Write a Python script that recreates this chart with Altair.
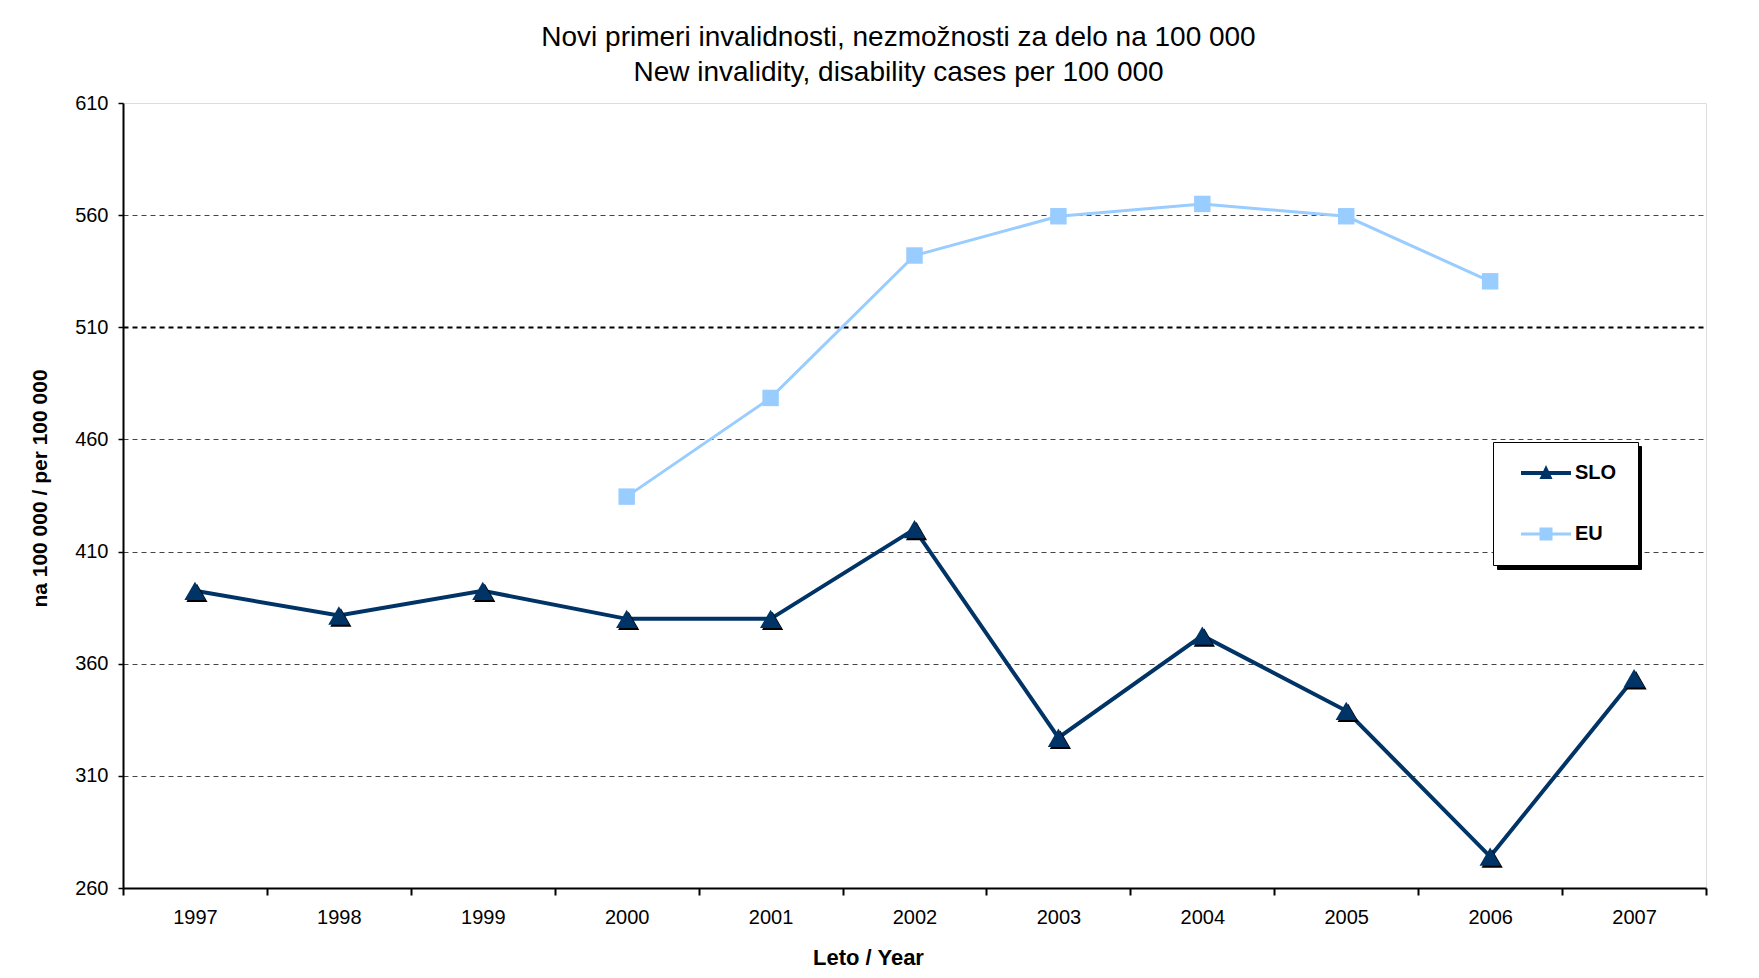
import altair as alt
import pandas as pd

years = ["1997", "1998", "1999", "2000", "2001", "2002", "2003", "2004", "2005", "2006", "2007"]
slo_values = [392.5, 381.5, 392.5, 380, 380, 420, 327, 372.5, 339, 274, 353.5]
eu_years = ["2000", "2001", "2002", "2003", "2004", "2005", "2006"]
eu_values = [434.5, 478.5, 542, 559.5, 565, 559.5, 530.5]
series = ["SLO", "EU"]
colors = ["#003366", "#99CCFF"]
y_ticks = [260, 310, 360, 410, 460, 510, 560, 610]

df = pd.DataFrame({
    "year": years + eu_years,
    "value": slo_values + eu_values,
    "series": ["SLO"] * len(slo_values) + ["EU"] * len(eu_values),
})

FONT = "Liberation Sans, Arial, Helvetica, sans-serif"

# legend symbols: line segment + marker (unit = 10px with symbolSize 400)
slo_path = "M-2.5,-0.2H2.5V0.2H-2.5Z M0,-0.8L0.65,0.6L-0.65,0.6Z"
eu_path = "M-2.5,-0.15H2.5V0.15H-2.5Z M-0.65,-0.65H0.65V0.65H-0.65Z"

main_legend = alt.Legend(
    title=None,
    orient="none",
    legendX=1370,
    legendY=339,
    direction="vertical",
    fillColor="white",
    strokeColor="black",
    padding=21,
    rowPadding=41,
    labelFont=FONT,
    labelFontSize=20,
    labelFontWeight="bold",
    labelColor="black",
    labelOffset=19,
    symbolOffset=22,
    symbolSize=400,
    symbolOpacity=1,
    symbolStrokeWidth=0,
    zindex=2,
)

# drop shadow of the legend box (same size, no label text)
shadow_legend = alt.Legend(
    title=None,
    orient="none",
    legendX=1374,
    legendY=343,
    direction="vertical",
    fillColor="black",
    strokeColor="black",
    padding=21,
    rowPadding=41,
    labelExpr="''",
    labelFontSize=20,
    labelOffset=60,
    symbolOffset=22,
    symbolSize=400,
    symbolOpacity=1,
    symbolStrokeWidth=0,
    zindex=1,
)

x_enc = alt.X(
    "year:N",
    sort=years,
    scale=alt.Scale(type="band", domain=years, paddingInner=0, paddingOuter=0),
    axis=alt.Axis(
        title="Leto / Year",
        labelAngle=0,
        tickBand="extent",
        domainColor="black",
        domainWidth=2,
        tickColor="black",
        tickWidth=2,
        tickSize=7,
        labelFont=FONT,
        labelFontSize=20,
        labelColor="black",
        labelBaseline="middle",
        labelPadding=22,
        titleFont=FONT,
        titleFontSize=22,
        titleFontWeight="bold",
        titleColor="black",
        titleX=745,
        titleY=69,
        titleBaseline="middle",
        titleAlign="center",
        grid=False,
    ),
)

y_enc = alt.Y(
    "value:Q",
    scale=alt.Scale(domain=[260, 610], nice=False, zero=False),
    axis=alt.Axis(
        title="na 100 000 / per 100 000",
        values=y_ticks,
        domainColor="black",
        domainWidth=2,
        tickColor="black",
        tickWidth=1.5,
        tickSize=5,
        labelFont=FONT,
        labelFontSize=20,
        labelColor="black",
        labelPadding=10,
        titleFont=FONT,
        titleFontSize=21,
        titleFontWeight="bold",
        titleColor="black",
        titlePadding=24,
        titleY=385,
        grid=True,
        gridDash=[5, 4],
        gridColor=alt.condition(alt.datum.value == 510, alt.value("black"), alt.value("#444444")),
        gridWidth=alt.condition(alt.datum.value == 510, alt.value(2), alt.value(1)),
        gridOpacity=alt.condition(
            (alt.datum.value == 610) | (alt.datum.value == 260), alt.value(0), alt.value(1)
        ),
    ),
)

color_scale = alt.Scale(domain=series, range=colors)
shape_scale = alt.Scale(domain=series, range=[slo_path, eu_path])
color_nolegend = alt.Color("series:N", scale=color_scale, legend=None)

base = alt.Chart(df).encode(x=x_enc, y=y_enc)

slo_line = base.transform_filter(alt.datum.series == "SLO").mark_line(strokeWidth=4).encode(color=color_nolegend)
slo_shadow = base.transform_filter(alt.datum.series == "SLO").mark_point(
    shape="triangle-up", filled=True, size=450, color="black", opacity=1, xOffset=2, yOffset=2
)
slo_pts = base.transform_filter(alt.datum.series == "SLO").mark_point(
    shape="triangle-up", filled=True, size=450, opacity=1
).encode(color=color_nolegend)
eu_line = base.transform_filter(alt.datum.series == "EU").mark_line(strokeWidth=3).encode(color=color_nolegend)
eu_pts = base.transform_filter(alt.datum.series == "EU").mark_point(
    shape="square", filled=True, size=270, opacity=1
).encode(color=color_nolegend)

legend_shadow_layer = base.mark_point(filled=True, opacity=0).encode(
    color=alt.Color("series:N", scale=alt.Scale(domain=series, range=["black", "black"]), legend=shadow_legend),
    shape=alt.Shape("series:N", scale=shape_scale, legend=shadow_legend),
)
legend_layer = base.mark_point(filled=True, opacity=0).encode(
    color=alt.Color("series:N", scale=color_scale, legend=main_legend),
    shape=alt.Shape("series:N", scale=shape_scale, legend=main_legend),
)

chart = alt.layer(
    slo_line, slo_shadow, slo_pts, eu_line, eu_pts, legend_shadow_layer, legend_layer
).resolve_scale(
    color="independent", shape="independent"
).properties(
    width=1583,
    height=785,
    autosize=alt.AutoSizeParams(type="none"),
    padding={"left": 115, "top": 95, "right": 45, "bottom": 82},
    title=alt.Title(
        ["Novi primeri invalidnosti, nezmožnosti za delo na 100 000",
         "New invalidity, disability cases per 100 000"],
        font=FONT,
        fontSize=28,
        fontWeight="normal",
        color="black",
        lineHeight=35,
        anchor="middle",
        dx=-16,
        offset=6,
    ),
).configure_view(
    stroke="#333333", strokeWidth=2
).configure(background="white")

chart.save("out.html", embed_options={"renderer": "svg", "actions": False})
